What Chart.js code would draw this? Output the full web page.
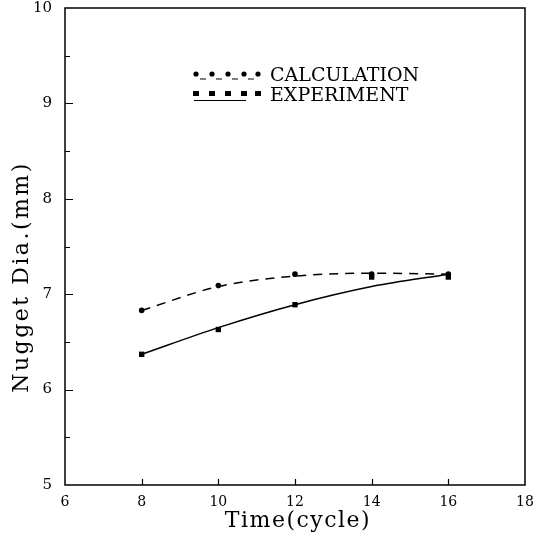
<!DOCTYPE html>
<html>
<head>
<meta charset="utf-8">
<script src="https://cdn.jsdelivr.net/npm/chart.js@4.4.1/dist/chart.umd.min.js"></script>
<style>
  html, body { margin: 0; padding: 0; background: #fff; }
  #wrap { width: 540px; height: 540px; }
</style>
</head>
<body>
<div id="wrap"><canvas id="nugget"></canvas></div>
<script>
// welding time (cycles) vs nugget diameter
const cycles = [8, 10, 12, 14, 16];
const calcPoints = [6.83, 7.09, 7.21, 7.21, 7.21];
const expPoints = [6.37, 6.63, 6.89, 7.18, 7.18];
// smoothed trend lines
const calcCurve = [6.83, 7.08, 7.19, 7.22, 7.21];
const expCurve = [6.37, 6.65, 6.89, 7.08, 7.21];

const xTicks = [6, 8, 10, 12, 14, 16, 18];
const yTicks = [5, 6, 7, 8, 9, 10];
const yMinor = [5.5, 6.5, 7.5, 8.5, 9.5];

const serif = '"DejaVu Serif", "Liberation Serif", serif';

const toXY = (xs, ys) => xs.map((x, i) => ({ x: x, y: ys[i] }));

// frame box, inward tick marks and the two axis titles
const framePlugin = {
    id: 'frame',
    afterDraw(chart) {
        const c = chart.ctx;
        const a = chart.chartArea;
        const sx = chart.scales.x, sy = chart.scales.y;
        c.save();
        c.strokeStyle = '#000';
        c.lineWidth = 1.5;
        c.strokeRect(a.left, a.top, a.right - a.left, a.bottom - a.top);
        c.lineWidth = 1.2;
        c.beginPath();
        xTicks.slice(1, -1).forEach(v => {
            const px = Math.round(sx.getPixelForValue(v)) + 0.5;
            c.moveTo(px, a.bottom);
            c.lineTo(px, a.bottom - 6);
        });
        yTicks.slice(1, -1).forEach(v => {
            const py = Math.round(sy.getPixelForValue(v)) + 0.5;
            c.moveTo(a.left, py);
            c.lineTo(a.left + 8, py);
        });
        yMinor.forEach(v => {
            const py = Math.round(sy.getPixelForValue(v)) + 0.5;
            c.moveTo(a.left, py);
            c.lineTo(a.left + 5, py);
        });
        c.stroke();

        c.fillStyle = '#000';
        c.textAlign = 'center';
        c.textBaseline = 'middle';
        c.letterSpacing = '1.5px';
        c.font = '22px ' + serif;
        c.fillText('Time(cycle)', 298, 521);

        c.translate(22, 277);
        c.rotate(-Math.PI / 2);
        c.letterSpacing = '2.5px';
        c.fillText('Nugget Dia.(mm)', 0, 0);
        c.restore();
    }
};

// legend box inside the plot
const legendPlugin = {
    id: 'keyBox',
    afterDraw(chart) {
        const c = chart.ctx;
        c.save();
        c.fillStyle = '#000';
        c.strokeStyle = '#000';
        const xs = [196, 212, 228, 244, 258];
        // calculation row: dots over a dashed line
        xs.forEach(x => { c.beginPath(); c.arc(x, 74, 2.6, 0, Math.PI * 2); c.fill(); });
        c.lineWidth = 1;
        c.setLineDash([6, 10]);
        c.beginPath(); c.moveTo(200, 79); c.lineTo(258, 79); c.stroke();
        c.setLineDash([]);
        // experiment row: squares over a solid line
        xs.forEach(x => c.fillRect(x - 3, 91, 6, 5));
        c.beginPath(); c.moveTo(194, 100.5); c.lineTo(246, 100.5); c.stroke();
        c.font = '19px ' + serif;
        c.textBaseline = 'alphabetic';
        c.fillText('CALCULATION', 270, 81);
        c.fillText('EXPERIMENT', 270, 101);
        c.restore();
    }
};

new Chart(document.getElementById('nugget'), {
    type: 'scatter',
    data: {
        datasets: [
            {
                label: 'CALCULATION',
                data: toXY(cycles, calcCurve),
                showLine: true,
                borderColor: '#000',
                borderWidth: 1.5,
                borderDash: [9, 7],
                pointRadius: 0,
                cubicInterpolationMode: 'monotone'
            },
            {
                label: 'EXPERIMENT',
                data: toXY(cycles, expCurve),
                showLine: true,
                borderColor: '#000',
                borderWidth: 1.5,
                pointRadius: 0,
                cubicInterpolationMode: 'monotone'
            },
            {
                label: 'CALCULATION points',
                data: toXY(cycles, calcPoints),
                showLine: false,
                pointStyle: 'circle',
                pointRadius: 2.8,
                backgroundColor: '#000',
                borderColor: '#000',
                borderWidth: 0
            },
            {
                label: 'EXPERIMENT points',
                data: toXY(cycles, expPoints),
                showLine: false,
                pointStyle: 'rect',
                pointRadius: 3.8,
                backgroundColor: '#000',
                borderColor: '#000',
                borderWidth: 0
            }
        ]
    },
    options: {
        responsive: true,
        maintainAspectRatio: false,
        animation: false,
        events: [],
        layout: { padding: { left: 0, top: 8, right: 15, bottom: 0 } },
        plugins: {
            legend: { display: false },
            tooltip: { enabled: false }
        },
        scales: {
            x: {
                type: 'linear',
                min: 6, max: 18,
                afterBuildTicks: (axis) => { axis.ticks = xTicks.map(v => ({ value: v })); },
                afterFit: (axis) => { axis.height = 55; axis.paddingLeft = 0; axis.paddingRight = 0; },
                grid: { display: false, drawTicks: false },
                border: { display: false },
                ticks: { color: '#000', padding: 9, font: { family: serif, size: 14 }, maxRotation: 0 }
            },
            y: {
                type: 'linear',
                min: 5, max: 10,
                afterBuildTicks: (axis) => { axis.ticks = yTicks.map(v => ({ value: v })); },
                afterFit: (axis) => { axis.width = 65; axis.paddingTop = 0; axis.paddingBottom = 0; },
                grid: { display: false, drawTicks: false },
                border: { display: false },
                ticks: { color: '#000', padding: 13, font: { family: serif, size: 15 } }
            }
        }
    },
    plugins: [framePlugin, legendPlugin]
});
</script>
</body>
</html>
